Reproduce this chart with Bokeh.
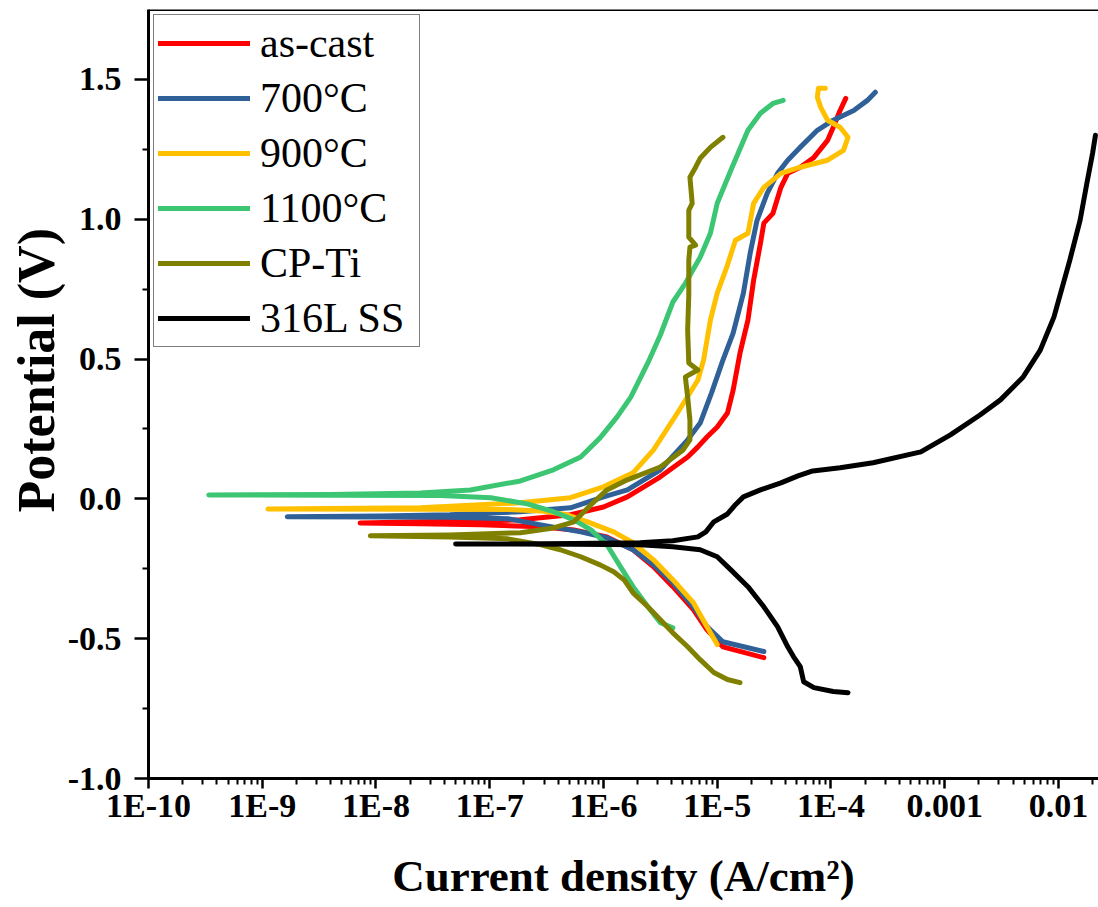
from bokeh.plotting import figure
from bokeh.models import Range1d, FixedTicker, Span, Legend, LegendItem, Title
from bokeh.embed import file_html
from bokeh.resources import INLINE

# ---- data: log10(current density, A/cm2) and potential (V) ----
ascast_logi = [-4.59, -4.95, -5.09, -5.21, -5.39, -5.56, -5.74, -5.97, -6.26, -6.55, -7.08, -7.61, -8.14,
               -7.61, -7.08, -6.73, -6.29, -6.00, -5.79, -5.50, -5.26, -5.17, -5.09, -5.00, -4.91, -4.86,
               -4.80, -4.73, -4.68, -4.62, -4.59, -4.51, -4.44, -4.38, -4.27, -4.15, -4.03, -3.98, -3.92, -3.87]
ascast_E = [-0.568, -0.529, -0.468, -0.396, -0.314, -0.243, -0.182, -0.136, -0.111, -0.100, -0.093, -0.089, -0.086,
            -0.082, -0.079, -0.075, -0.057, -0.029, 0.007, 0.079, 0.150, 0.186, 0.221, 0.257, 0.307, 0.389,
            0.521, 0.639, 0.782, 0.914, 0.986, 1.021, 1.114, 1.164, 1.186, 1.221, 1.282, 1.329, 1.389, 1.432]

t700_logi = [-4.59, -4.95, -5.09, -5.21, -5.39, -5.56, -5.74, -5.97, -6.20, -6.55, -6.84, -7.35, -7.96, -8.78,
             -7.96, -7.35, -6.73, -6.29, -6.00, -5.79, -5.50, -5.26, -5.15, -5.05, -4.95, -4.86, -4.77, -4.71,
             -4.65, -4.56, -4.47, -4.38, -4.27, -4.12, -3.98, -3.80, -3.68, -3.61]
t700_E = [-0.546, -0.511, -0.457, -0.386, -0.300, -0.236, -0.182, -0.139, -0.118, -0.093, -0.071, -0.066, -0.065, -0.064,
          -0.061, -0.057, -0.046, -0.032, 0.007, 0.032, 0.104, 0.211, 0.271, 0.379, 0.496, 0.593, 0.736, 0.879,
          0.996, 1.093, 1.164, 1.211, 1.257, 1.318, 1.354, 1.389, 1.425, 1.454]

t900_logi = [-5.00, -5.09, -5.21, -5.39, -5.56, -5.74, -5.91, -6.14, -6.32, -6.55, -6.84, -7.61, -8.95,
             -7.61, -6.73, -6.29, -6.00, -5.74, -5.56, -5.35, -5.17, -5.12, -5.06, -5.00, -4.91, -4.84, -4.73,
             -4.68, -4.59, -4.44, -4.27, -4.03, -3.89, -3.85, -3.92, -4.03, -4.09, -4.12, -4.11, -4.05]
t900_E = [-0.521, -0.457, -0.371, -0.289, -0.218, -0.157, -0.118, -0.082, -0.057, -0.043, -0.038, -0.037, -0.036,
          -0.032, -0.014, 0.004, 0.043, 0.093, 0.175, 0.307, 0.425, 0.496, 0.639, 0.736, 0.836, 0.925, 0.950,
          1.057, 1.114, 1.164, 1.186, 1.211, 1.246, 1.293, 1.329, 1.354, 1.400, 1.436, 1.468, 1.468]

t1100_logi = [-5.39, -5.50, -5.61, -5.74, -5.85, -5.97, -6.11, -6.26, -6.44, -6.67, -6.99, -7.43, -8.40, -9.47,
              -8.40, -7.61, -7.17, -6.73, -6.44, -6.20, -6.03, -5.88, -5.76, -5.61, -5.50, -5.39, -5.28, -5.15,
              -5.06, -5.00, -4.88, -4.73, -4.62, -4.51, -4.42]
t1100_E = [-0.461, -0.443, -0.386, -0.314, -0.243, -0.164, -0.111, -0.075, -0.046, -0.018, 0.004, 0.012, 0.013, 0.014,
           0.016, 0.021, 0.032, 0.064, 0.104, 0.150, 0.218, 0.293, 0.364, 0.486, 0.586, 0.704, 0.771, 0.864,
           0.950, 1.057, 1.175, 1.318, 1.379, 1.414, 1.425]

cpti_logi = [-4.80, -4.91, -5.03, -5.15, -5.26, -5.39, -5.50, -5.61, -5.74, -5.82, -5.91, -6.03, -6.20, -6.38,
             -6.55, -6.84, -7.35, -8.05,
             -7.35, -6.73, -6.44, -6.26, -6.11, -5.97, -5.79, -5.50, -5.30, -5.24, -5.24, -5.26, -5.28, -5.17,
             -5.25, -5.26, -5.25, -5.25, -5.24, -5.19, -5.25, -5.25, -5.22, -5.24, -5.19, -5.15, -5.06, -4.95]
cpti_E = [-0.657, -0.646, -0.621, -0.575, -0.529, -0.479, -0.432, -0.386, -0.336, -0.289, -0.261, -0.236, -0.207, -0.182,
          -0.164, -0.143, -0.136, -0.132,
          -0.129, -0.121, -0.104, -0.082, -0.021, 0.032, 0.068, 0.114, 0.175, 0.211, 0.282, 0.364, 0.436, 0.461,
          0.486, 0.604, 0.729, 0.854, 0.900, 0.907, 0.936, 1.032, 1.057, 1.150, 1.186, 1.218, 1.257, 1.293]

ss316_logi = [-3.85, -3.98, -4.15, -4.24, -4.27, -4.33, -4.38, -4.47, -4.59, -4.73, -4.88, -5.00, -5.15, -5.39,
              -5.68, -6.26, -7.30,
              -6.84, -6.26, -5.68, -5.39, -5.17, -5.10, -5.03, -4.91, -4.84, -4.77, -4.62, -4.44, -4.29, -4.16,
              -3.92, -3.63, -3.21, -2.95, -2.69, -2.51, -2.31, -2.16, -2.04, -1.90, -1.81, -1.75, -1.70, -1.675]
ss316_E = [-0.693, -0.689, -0.675, -0.654, -0.600, -0.564, -0.529, -0.457, -0.386, -0.314, -0.254, -0.207, -0.182,
           -0.171, -0.164, -0.162, -0.161,
           -0.161, -0.160, -0.157, -0.150, -0.136, -0.118, -0.082, -0.054, -0.021, 0.007, 0.032, 0.057, 0.082,
           0.100, 0.111, 0.129, 0.168, 0.229, 0.300, 0.354, 0.436, 0.532, 0.650, 0.854, 0.996, 1.129, 1.236, 1.300]

series_names = ["as-cast", "700\u00b0C", "900\u00b0C", "1100\u00b0C", "CP-Ti", "316L SS"]
series_colors = ["#FF0000", "#2F6098", "#FFC000", "#3CC673", "#808000", "#000000"]
series_logi = [ascast_logi, t700_logi, t900_logi, t1100_logi, cpti_logi, ss316_logi]
series_E = [ascast_E, t700_E, t900_E, t1100_E, cpti_E, ss316_E]

x_tick_exps = [-10, -9, -8, -7, -6, -5, -4, -3, -2]
x_tick_labels = ["1E-10", "1E-9", "1E-8", "1E-7", "1E-6", "1E-5", "1E-4", "0.001", "0.01"]
y_ticks = [-1.0, -0.5, 0.0, 0.5, 1.0, 1.5]
y_tick_labels = ["-1.0", "-0.5", "0.0", "0.5", "1.0", "1.5"]
y_minor = [-0.75, -0.25, 0.25, 0.75, 1.25]
x_title = "Current density (A/cm\u00b2)"
y_title = "Potential (V)"

FONT = "Liberation Serif"

p = figure(width=1098, height=906, x_axis_type="log",
           x_range=Range1d(1e-10, 10 ** -1.648), y_range=Range1d(-1.0, 1.75),
           output_backend="svg", toolbar_location=None,
           min_border_left=148, min_border_right=0, min_border_top=9, min_border_bottom=128)
p.outline_line_color = None
p.xgrid.grid_line_color = None
p.ygrid.grid_line_color = None
p.background_fill_color = "white"
p.border_fill_color = "white"

renderers = []
for name, color, li, E in zip(series_names, series_colors, series_logi, series_E):
    xs = [10.0 ** v for v in li]
    r = p.line(xs, E, line_color=color, line_width=5, line_cap="round", line_join="round")
    renderers.append((name, r))

# top frame line
p.add_layout(Span(location=1.75, dimension="width", line_color="black", line_width=3))

# x axis
x_major = [10.0 ** k for k in x_tick_exps]
x_minor = [m * 10.0 ** k for k in x_tick_exps for m in range(2, 10)]
xa = p.xaxis[0]
xa.ticker = FixedTicker(ticks=x_major, minor_ticks=x_minor)
xa.major_label_overrides = {t: lab for t, lab in zip(x_major, x_tick_labels)}
xa.axis_label = x_title
for ax in (p.xaxis[0], p.yaxis[0]):
    ax.axis_line_width = 3
    ax.axis_line_color = "black"
    ax.major_tick_line_width = 2.5
    ax.minor_tick_line_width = 2
    ax.major_tick_in = 0
    ax.minor_tick_in = 0
    ax.major_label_text_font = FONT
    ax.major_label_text_font_style = "bold"
    ax.major_label_text_font_size = "34px"
    ax.major_label_text_color = "black"
    ax.axis_label_text_font = FONT
    ax.axis_label_text_font_style = "bold"
    ax.axis_label_text_color = "black"
xa.axis_label_text_font_size = "45px"
xa.major_tick_out = 10
xa.minor_tick_out = 6
xa.major_label_standoff = -2
xa.axis_label_standoff = 24

ya = p.yaxis[0]
ya.ticker = FixedTicker(ticks=y_ticks, minor_ticks=y_minor)
ya.major_label_overrides = {t: lab for t, lab in zip(y_ticks, y_tick_labels)}
ya.major_tick_out = 14
ya.minor_tick_out = 6
ya.major_label_standoff = 13

# y-axis title as a side title, started ~0.47 V above the frame bottom like the reference
p.add_layout(Title(text=y_title, align="left", offset=266, standoff=0,
                   text_font=FONT, text_font_style="bold", text_font_size="52px",
                   text_color="black"), "left")

legend = Legend(items=[LegendItem(label=n, renderers=[r]) for n, r in renderers],
                location="top_left", margin=5, padding=4, spacing=7,
                glyph_width=92, glyph_height=48, label_height=48, label_width=155,
                label_standoff=10,
                label_text_font=FONT, label_text_font_size="42px", label_text_color="black",
                border_line_color="black", border_line_width=1.5,
                background_fill_color="white", background_fill_alpha=1.0)
p.add_layout(legend, "center")

open("out.html", "w").write(file_html(p, INLINE))
